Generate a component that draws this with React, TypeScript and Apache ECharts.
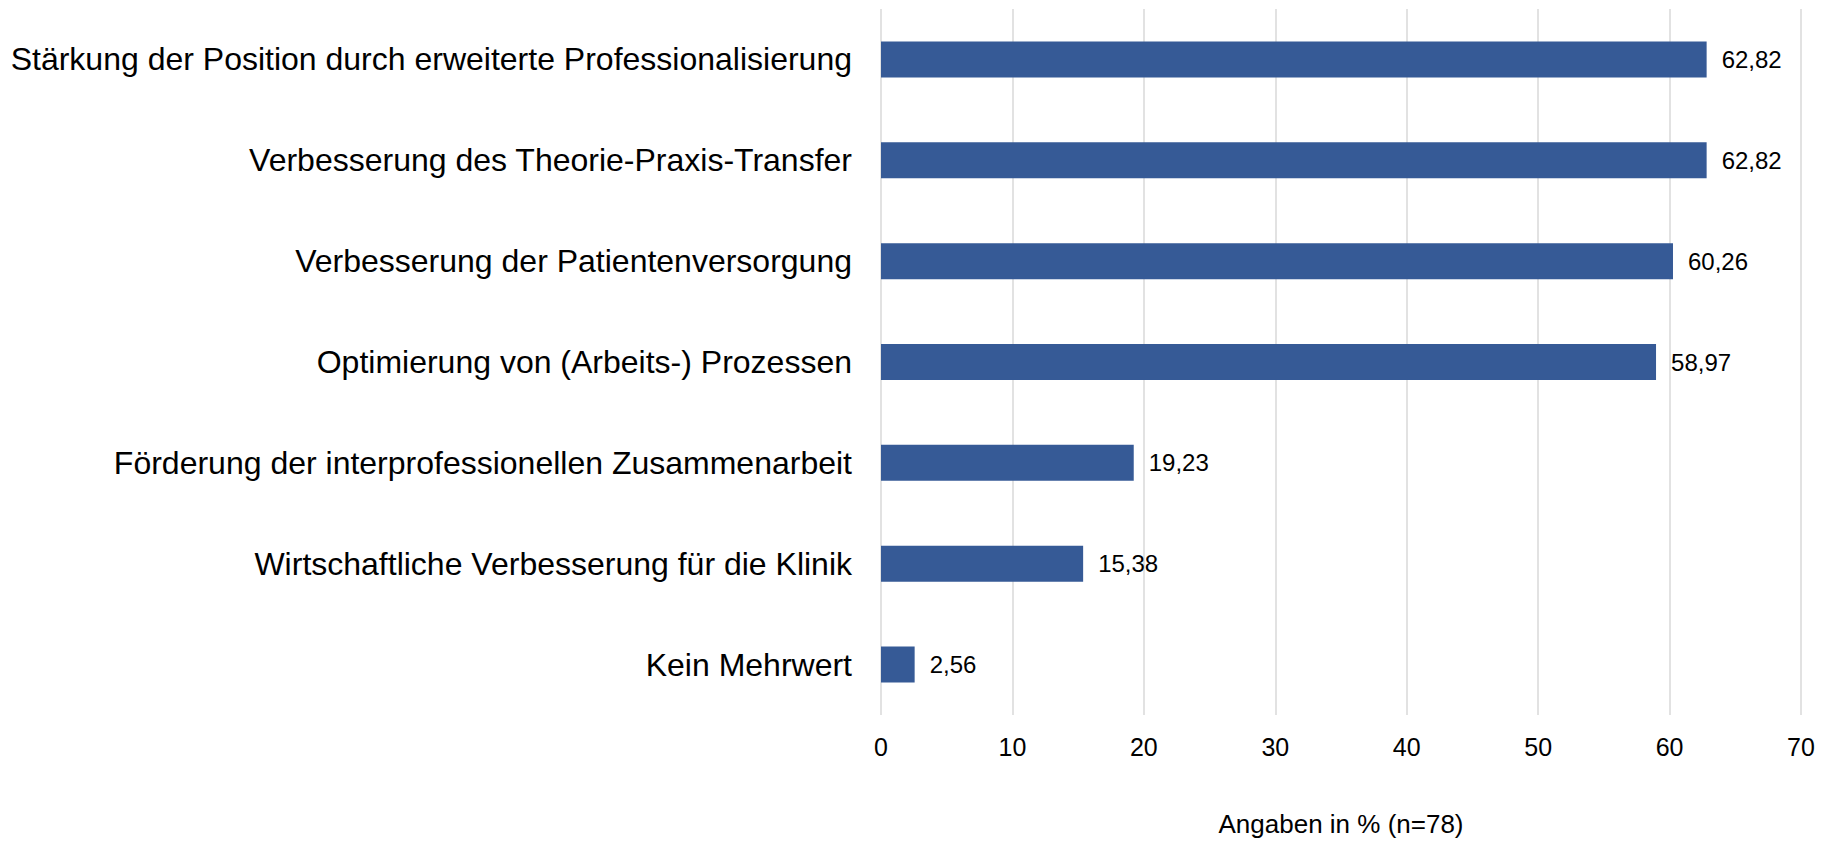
import React, { useEffect, useRef } from "react";
import * as echarts from "echarts";

const categories = [
  "Stärkung der Position durch erweiterte Professionalisierung",
  "Verbesserung des Theorie-Praxis-Transfer",
  "Verbesserung der Patientenversorgung",
  "Optimierung von (Arbeits-) Prozessen",
  "Förderung der interprofessionellen Zusammenarbeit",
  "Wirtschaftliche Verbesserung für die Klinik",
  "Kein Mehrwert",
];
const values = [62.82, 62.82, 60.26, 58.97, 19.23, 15.38, 2.56];
const axisName = "Angaben in % (n=78)";

const FONT = "'Liberation Sans', Arial, sans-serif";

export default function App() {
  const ref = useRef<HTMLDivElement>(null);
  useEffect(() => {
    if (!ref.current) return;
    const chart = echarts.init(ref.current, null, { renderer: "svg" });
    chart.setOption({
      animation: false,
      backgroundColor: "#ffffff",
      grid: { left: 881, right: 27, top: 9, bottom: 121, containLabel: false },
      xAxis: {
        type: "value",
        min: 0,
        max: 70,
        interval: 10,
        axisLine: { show: false },
        axisTick: { show: false },
        splitLine: { show: true, lineStyle: { color: "#d9d9d9", width: 1.5 } },
        axisLabel: { color: "#000", fontSize: 25, fontFamily: FONT, margin: 19 },
        name: axisName,
        nameLocation: "middle",
        nameGap: 96,
        nameTextStyle: { color: "#000", fontSize: 26, fontFamily: FONT },
      },
      yAxis: {
        type: "category",
        data: categories,
        inverse: true,
        axisLine: { show: false },
        axisTick: { show: false },
        splitLine: { show: false },
        axisLabel: { color: "#000", fontSize: 32, fontFamily: FONT, margin: 29 },
      },
      series: [
        {
          type: "bar",
          data: values,
          barWidth: 36,
          itemStyle: { color: "#365A96" },
          label: {
            show: true,
            position: "right",
            distance: 15,
            color: "#000",
            fontSize: 24,
            fontFamily: FONT,
            formatter: (p: any) => p.value.toFixed(2).replace(".", ","),
          },
        },
      ],
    });
    return () => chart.dispose();
  }, []);
  return (
    <div
      ref={ref}
      style={{ position: "fixed", left: 0, top: 0, width: 1828, height: 842, background: "#fff" }}
    />
  );
}
